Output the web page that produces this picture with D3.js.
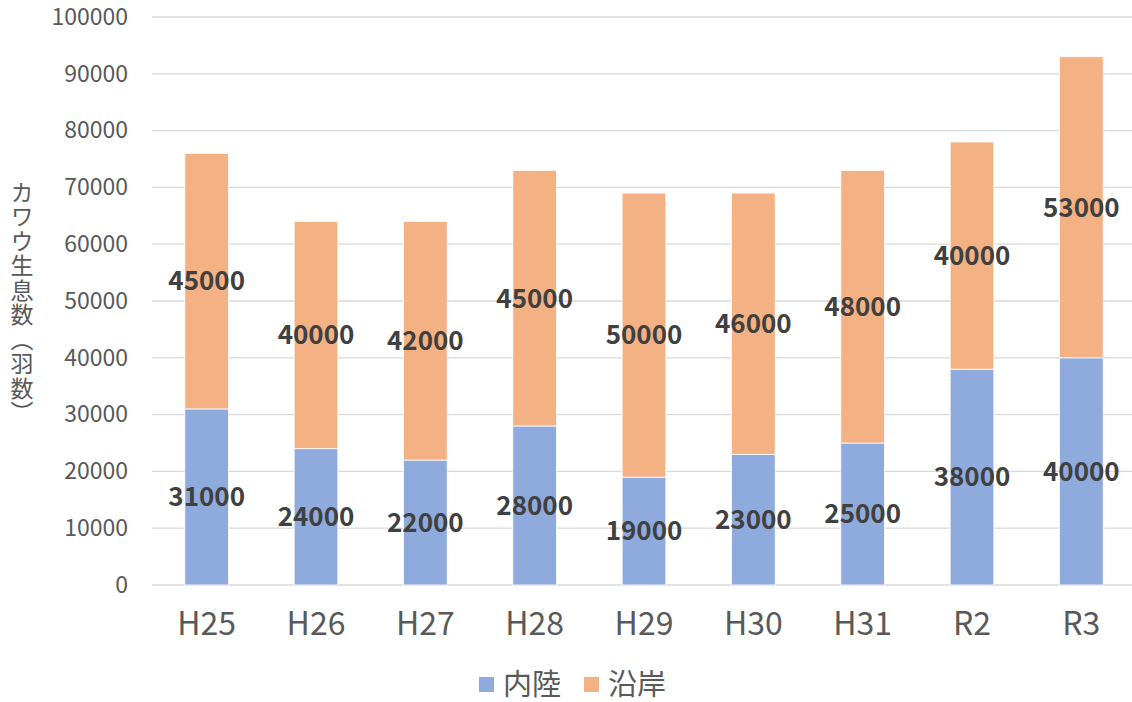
<!DOCTYPE html>
<html>
<head>
<meta charset="utf-8">
<script src="https://cdn.jsdelivr.net/npm/d3@7"></script>
<style>
  body { margin: 0; background: #fff; }
  text { font-family: "Noto Sans CJK JP", "Noto Sans", sans-serif; }
</style>
</head>
<body>
<div id="chart"></div>
<script>
const years = ["H25", "H26", "H27", "H28", "H29", "H30", "H31", "R2", "R3"];
const inland = [31000, 24000, 22000, 28000, 19000, 23000, 25000, 38000, 40000];
const coast = [45000, 40000, 42000, 45000, 50000, 46000, 48000, 40000, 53000];
const yTicks = [0, 10000, 20000, 30000, 40000, 50000, 60000, 70000, 80000, 90000, 100000];
const seriesNames = ["内陸", "沿岸"];
const colors = ["#8faadc", "#f4b183"];

const svgWidth = 1132, svgHeight = 702;
const margin = { top: 17, right: -4, bottom: 117, left: 152 };
const width = svgWidth - margin.left - margin.right;
const height = svgHeight - margin.top - margin.bottom;

const svg = d3.select("#chart").append("svg")
    .attr("width", svgWidth)
    .attr("height", svgHeight);

const g = svg.append("g")
    .attr("transform", `translate(${margin.left},${margin.top})`);

const x = d3.scaleBand()
    .domain(years)
    .range([0, width])
    .paddingInner(0.6)
    .paddingOuter(0.3);

const y = d3.scaleLinear()
    .domain([0, 100000])
    .range([height, 0]);

// grid
g.selectAll(".grid")
    .data(yTicks)
    .enter().append("line")
    .attr("x1", 0).attr("x2", width)
    .attr("y1", d => y(d)).attr("y2", d => y(d))
    .attr("stroke", "#d9d9d9")
    .attr("stroke-width", 1.3);

// y tick labels
const yAxis = g.append("g")
    .call(d3.axisLeft(y).tickValues(yTicks).tickSize(0).tickPadding(24).tickFormat(d3.format("d")));
yAxis.select(".domain").remove();
yAxis.selectAll("text")
    .attr("fill", "#595959")
    .style("font-size", "23px");

// x tick labels
const xAxis = g.append("g")
    .attr("transform", `translate(0,${height})`)
    .call(d3.axisBottom(x).tickSize(0).tickPadding(27));
xAxis.select(".domain").remove();
xAxis.selectAll("text")
    .attr("fill", "#595959")
    .style("font-size", "32px");

// stacked data
const rows = years.map((yr, i) => ({ year: yr, 内陸: inland[i], 沿岸: coast[i] }));
const stacked = d3.stack().keys(seriesNames)(rows);

const layers = g.selectAll(".layer")
    .data(stacked)
    .enter().append("g")
    .attr("fill", (d, i) => colors[i]);

layers.selectAll("rect")
    .data(d => d)
    .enter().append("rect")
    .attr("x", d => x(d.data.year))
    .attr("width", x.bandwidth())
    .attr("y", d => y(d[1]))
    .attr("height", d => y(d[0]) - y(d[1]))
    .attr("stroke", "#fff")
    .attr("stroke-width", 0.8);

// data labels
layers.selectAll(".lbl")
    .data(d => d.map(v => ({ v, key: d.key })))
    .enter().append("text")
    .attr("x", d => x(d.v.data.year) + x.bandwidth() / 2)
    .attr("y", d => y((d.v[0] + d.v[1]) / 2))
    .attr("dy", "0.36em")
    .attr("text-anchor", "middle")
    .attr("fill", "#404040")
    .style("font-size", "26px")
    .style("font-weight", "bold")
    .text(d => d.v.data[d.key]);

// y axis title (vertical)
svg.append("text")
    .attr("x", 22)
    .attr("y", 303)
    .attr("text-anchor", "middle")
    .attr("fill", "#595959")
    .style("font-size", "23px")
    .style("writing-mode", "vertical-rl")
    .style("text-orientation", "upright")
    .style("letter-spacing", "1.5px")
    .attr("dominant-baseline", "central")
    .text("カワウ生息数（羽数）");

// legend
const legend = svg.append("g").attr("transform", "translate(479,685)");
const legendX = [0, 105];
seriesNames.forEach((name, i) => {
    legend.append("rect")
        .attr("x", legendX[i]).attr("y", -8)
        .attr("width", 15).attr("height", 15)
        .attr("fill", colors[i]);
    legend.append("text")
        .attr("x", legendX[i] + 24).attr("y", 0)
        .attr("dy", "0.36em")
        .attr("fill", "#595959")
        .style("font-size", "29px")
        .text(name);
});
</script>
</body>
</html>
